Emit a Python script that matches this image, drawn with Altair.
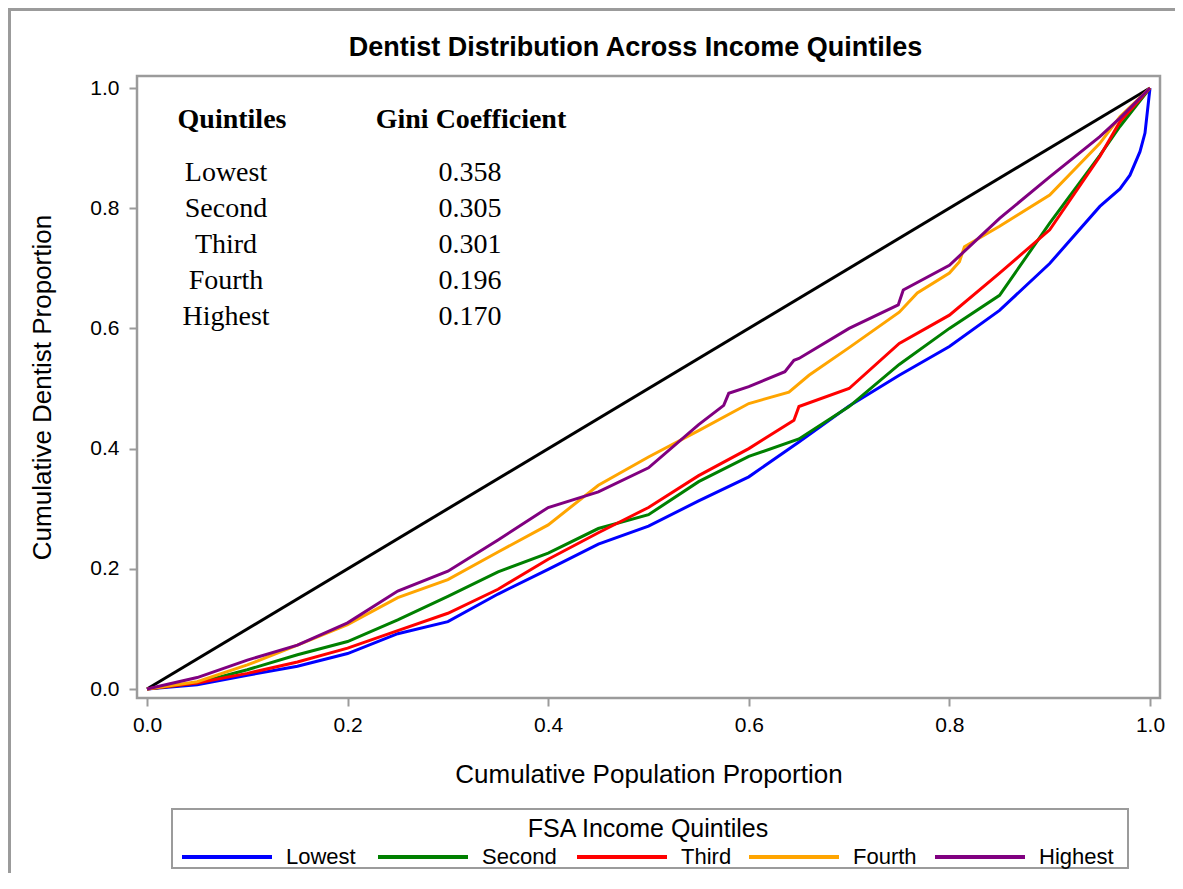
import altair as alt
import pandas as pd

# ---------------- data ----------------
quintiles = ["Lowest", "Second", "Third", "Fourth", "Highest"]
colors = ["#0000FF", "#008000", "#FF0000", "#FFA500", "#800080"]
gini = [0.358, 0.305, 0.301, 0.196, 0.170]

lowest_x = [0, .05, .1, .15, .2, .25, .3, .35, .4, .45, .5, .55, .6, .65, .7,
            .75, .8, .85, .9, .95, .97, .98, .99, .995, 1.0]
lowest_y = [0, .007, .023, .038, .059, .092, .112, .158, .199, .241, .271, .313,
            .353, .411, .471, .522, .570, .630, .708, .803, .832, .855, .894, .925, 1.0]

second_x = [0, .05, .1, .15, .2, .25, .3, .35, .4, .45, .5, .55, .6, .65, .7,
            .75, .8, .85, .9, .95, .97, 1.0]
second_y = [0, .010, .032, .057, .079, .115, .154, .195, .226, .267, .290, .345,
            .387, .416, .470, .540, .600, .655, .775, .888, .936, 1.0]

third_x = [0, .05, .1, .15, .2, .25, .3, .35, .4, .45, .5, .55, .6, .645, .65, .7,
           .75, .8, .85, .9, .95, .97, 1.0]
third_y = [0, .010, .026, .045, .068, .097, .126, .166, .216, .260, .302, .355,
           .400, .447, .470, .500, .575, .622, .692, .764, .886, .944, 1.0]

fourth_x = [0, .05, .1, .15, .2, .25, .3, .35, .4, .45, .5, .55, .6, .64, .66, .7,
            .75, .768, .8, .81, .815, .85, .9, .95, .97, 1.0]
fourth_y = [0, .012, .040, .073, .107, .152, .182, .228, .273, .339, .386, .430,
            .475, .494, .522, .568, .627, .659, .692, .711, .736, .770, .822, .908, .952, 1.0]

highest_x = [0, .05, .1, .15, .2, .25, .3, .35, .4, .45, .5, .55, .575, .58, .6, .636,
             .645, .65, .7, .749, .754, .8, .85, .9, .95, .97, 1.0]
highest_y = [0, .019, .048, .073, .110, .163, .196, .248, .302, .328, .368, .440,
             .472, .492, .503, .528, .547, .550, .600, .639, .664, .705, .783, .852, .919, .950, 1.0]

equality_x = [0.0, 1.0]
equality_y = [0.0, 1.0]

x_ticks = [0.0, 0.2, 0.4, 0.6, 0.8, 1.0]
y_ticks = [0.0, 0.2, 0.4, 0.6, 0.8, 1.0]

# ---------------- tables ----------------
rows = []
series = [(lowest_x, lowest_y), (second_x, second_y), (third_x, third_y),
          (fourth_x, fourth_y), (highest_x, highest_y)]
for q, (xs, ys) in zip(quintiles, series):
    for xv, yv in zip(xs, ys):
        rows.append({"Quintile": q, "x": xv, "y": yv})
curves = pd.DataFrame(rows)
diag = pd.DataFrame({"x": equality_x, "y": equality_y})
table = pd.DataFrame({"Quintile": quintiles, "Gini": gini})
header = pd.DataFrame({"h1": ["Quintiles"], "h2": ["Gini Coefficient"],
                       "lt": ["FSA Income Quintiles"]})

# ---------------- layout constants (pixels, relative to plot area) ----------------
PW, PH = 1023, 622
PAD = {"left": 129, "top": 68, "right": 15, "bottom": 175}
GRAY = "#9b9b9b"
SANS = "Liberation Sans"
SERIF = "Liberation Serif"

xscale = alt.Scale(domain=[-10 / 1003, 1 + 10 / 1003], nice=False, zero=False)
yscale = alt.Scale(domain=[-9 / 601, 1 + 12 / 601], nice=False, zero=False)
cscale = alt.Scale(domain=quintiles, range=colors)

xaxis = alt.Axis(values=x_ticks, format=".1f", title="Cumulative Population Proportion")
yaxis = alt.Axis(values=y_ticks, format=".1f", title="Cumulative Dentist Proportion")

one = pd.DataFrame({"a": [0]})

border = alt.Chart(one).mark_rect(
    fillOpacity=0, stroke=GRAY, strokeWidth=3
).encode(
    x=alt.value(-127.5), x2=alt.value(1300), y=alt.value(-66.5), y2=alt.value(1000)
)

diag_line = alt.Chart(diag).mark_line(color="black", strokeWidth=3).encode(
    x=alt.X("x:Q", scale=xscale, axis=xaxis),
    y=alt.Y("y:Q", scale=yscale, axis=yaxis),
)

lines = alt.Chart(curves).mark_line(strokeWidth=3).encode(
    x=alt.X("x:Q", scale=xscale, axis=xaxis),
    y=alt.Y("y:Q", scale=yscale, axis=yaxis),
    color=alt.Color("Quintile:N", sort=quintiles, scale=cscale, legend=None),
)

layers = [border, diag_line, lines]

# Gini table
hdr = alt.Chart(header)
TFS = 28
layers.append(hdr.mark_text(font=SERIF, fontSize=TFS, fontWeight="bold",
                            align="center", baseline="middle", color="black")
              .encode(text="h1:N", x=alt.value(95), y=alt.value(44)))
layers.append(hdr.mark_text(font=SERIF, fontSize=TFS, fontWeight="bold",
                            align="center", baseline="middle", color="black")
              .encode(text="h2:N", x=alt.value(334), y=alt.value(44)))
ROW0, STEP = 97, 36
for i, q in enumerate(quintiles):
    base_t = alt.Chart(table).transform_filter(alt.datum.Quintile == q)
    yy = ROW0 + i * STEP
    layers.append(base_t.mark_text(font=SERIF, fontSize=TFS, align="center",
                                   baseline="middle", color="black")
                  .encode(text="Quintile:N", x=alt.value(89), y=alt.value(yy)))
    layers.append(base_t.mark_text(font=SERIF, fontSize=TFS, align="center",
                                   baseline="middle", color="black")
                  .encode(text=alt.Text("Gini:Q", format=".3f"),
                          x=alt.value(333), y=alt.value(yy)))

# Legend (drawn below the plot, colours through the shared colour scale)
LG_X0, LG_X1, LG_Y0, LG_Y1 = 35, 991, 733, 792
layers.append(alt.Chart(one).mark_rect(fillOpacity=0, stroke=GRAY, strokeWidth=2)
              .encode(x=alt.value(LG_X0), x2=alt.value(LG_X1),
                      y=alt.value(LG_Y0), y2=alt.value(LG_Y1)))
layers.append(hdr.mark_text(font=SANS, fontSize=25, align="center",
                            baseline="middle", color="black")
              .encode(text="lt:N", x=alt.value(511), y=alt.value(753)))
sym_x = [45, 241, 440, 612, 798]
SYM_LEN, LBL_OFF, ENTRY_Y = 90, 14, 781
for q, sx in zip(quintiles, sym_x):
    base_l = alt.Chart(table).transform_filter(alt.datum.Quintile == q)
    layers.append(base_l.mark_rule(strokeWidth=4)
                  .encode(x=alt.value(sx), x2=alt.value(sx + SYM_LEN),
                          y=alt.value(ENTRY_Y),
                          color=alt.Color("Quintile:N", scale=cscale, legend=None)))
    layers.append(base_l.mark_text(font=SANS, fontSize=22, align="left",
                                   baseline="middle", color="black")
                  .encode(text="Quintile:N", x=alt.value(sx + SYM_LEN + LBL_OFF),
                          y=alt.value(ENTRY_Y)))

chart = alt.layer(*layers).properties(
    width=PW,
    height=PH,
    padding=PAD,
    autosize=alt.AutoSizeParams(type="none"),
    title=alt.TitleParams(
        "Dentist Distribution Across Income Quintiles",
        font=SANS, fontSize=27, fontWeight="bold", color="black",
        anchor="middle", frame="group", dx=-13, offset=0, dy=54,
    ),
).configure_view(
    stroke=GRAY, strokeWidth=2.5
).configure_axis(
    domain=False, grid=False,
    tickColor=GRAY, tickWidth=2, tickSize=8,
    labelFont=SANS, labelFontSize=21, labelColor="black", labelPadding=8,
    titleFont=SANS, titleFontSize=26, titleFontWeight="normal", titleColor="black",
).configure_axisX(
    titlePadding=26
).configure_axisY(
    labelPadding=10, titlePadding=34
)

chart.save("out.html", embed_options={"renderer": "svg", "actions": False})
